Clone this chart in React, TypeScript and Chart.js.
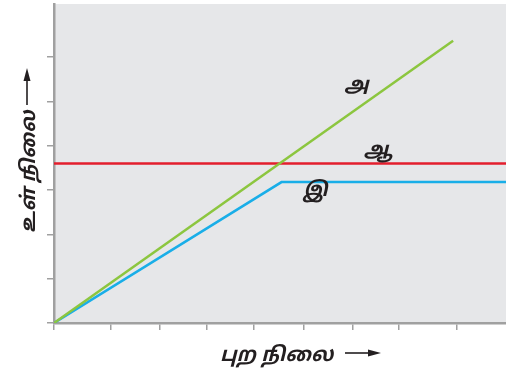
import React, { useEffect, useRef } from "react";
import { Chart, registerables } from "chart.js";

Chart.register(...registerables);

const xTickValues = [0, 1.14, 2.12, 3.06, 4.01, 5.0, 5.99, 6.92, 8.07];
const yTickValues = [0, 1, 2, 3, 4, 5, 6];

const greenX = [0, 8.0];
const greenY = [0, 6.37];
const redX = [0, 9.06];
const redY = [3.6, 3.6];
const blueX = [0, 4.56, 9.06];
const blueY = [0, 3.18, 3.18];

const labelA = "அ";
const labelAA = "ஆ";
const labelI = "இ";
const xTitle = "புற நிலை";
const yTitle = "உள் நிலை";

const FONT = '"Noto Sans Tamil", "Lohit Tamil", "Noto Sans", "DejaVu Sans", sans-serif';

const toPts = (xs: number[], ys: number[]) => xs.map((x, i) => ({ x, y: ys[i] }));

const bgPlugin = {
  id: "bg",
  beforeDraw(chart: any) {
    const { ctx, chartArea } = chart;
    ctx.save();
    ctx.fillStyle = "#e6e7e9";
    ctx.fillRect(chartArea.left, chartArea.top, chartArea.right - chartArea.left, chartArea.bottom - chartArea.top);
    ctx.restore();
  },
};

function drawArrow(ctx: CanvasRenderingContext2D, x0: number, y: number, len: number) {
  ctx.beginPath();
  ctx.lineWidth = 1.6;
  ctx.moveTo(x0, y);
  ctx.lineTo(x0 + len - 10, y);
  ctx.stroke();
  ctx.beginPath();
  ctx.moveTo(x0 + len, y);
  ctx.lineTo(x0 + len - 13, y - 3.5);
  ctx.lineTo(x0 + len - 13, y + 3.5);
  ctx.closePath();
  ctx.fill();
}

const textPlugin = {
  id: "texts",
  afterDraw(chart: any) {
    const { ctx, scales } = chart;
    const xs = scales.x;
    const ys = scales.y;
    ctx.save();
    ctx.fillStyle = "#231f20";
    ctx.strokeStyle = "#231f20";
    ctx.font = `bold italic 20px ${FONT}`;
    ctx.textAlign = "center";
    ctx.textBaseline = "middle";
    ctx.fillText(labelA, xs.getPixelForValue(6.06), ys.getPixelForValue(5.33));
    ctx.fillText(labelAA, xs.getPixelForValue(6.5), ys.getPixelForValue(3.86));
    ctx.fillText(labelI, xs.getPixelForValue(5.24), ys.getPixelForValue(2.95));

    // x title
    ctx.font = `bold italic 20px ${FONT}`;
    ctx.textAlign = "left";
    ctx.textBaseline = "alphabetic";
    ctx.fillText(xTitle, 220, 361);
    drawArrow(ctx, 345, 353, 36);

    // y title
    ctx.translate(35, 233);
    ctx.rotate(-Math.PI / 2);
    ctx.fillText(yTitle, 0, 0);
    drawArrow(ctx, 128, -8, 37);
    ctx.restore();
  },
};

export default function App() {
  const ref = useRef<HTMLCanvasElement | null>(null);
  useEffect(() => {
    document.body.style.margin = "0";
    const chart = new Chart(ref.current as HTMLCanvasElement, {
      type: "scatter",
      data: {
        datasets: [
          { data: toPts(greenX, greenY), borderColor: "#8cc63f", showLine: true, borderWidth: 2.5, pointRadius: 0 },
          { data: toPts(redX, redY), borderColor: "#e31e2d", showLine: true, borderWidth: 2.5, pointRadius: 0 },
          { data: toPts(blueX, blueY), borderColor: "#19aee8", showLine: true, borderWidth: 2.5, pointRadius: 0 },
        ],
      },
      options: {
        animation: false,
        responsive: false,
        maintainAspectRatio: false,
        layout: { padding: { left: 47, top: 4, right: 0, bottom: 40 } },
        plugins: { legend: { display: false }, tooltip: { enabled: false } },
        scales: {
          x: {
            type: "linear",
            min: 0,
            max: 9.06,
            afterBuildTicks: (s: any) => {
              s.ticks = xTickValues.map((v) => ({ value: v }));
            },
            ticks: { display: false },
            grid: { drawOnChartArea: false, drawTicks: true, tickLength: 7, color: "#a0a0a0", lineWidth: 1.5 },
            border: { display: true, color: "#a0a0a0", width: 2.5 },
          },
          y: {
            type: "linear",
            min: 0,
            max: 7.2,
            afterBuildTicks: (s: any) => {
              s.ticks = yTickValues.map((v) => ({ value: v }));
            },
            ticks: { display: false },
            grid: { drawOnChartArea: false, drawTicks: true, tickLength: 7, color: "#a0a0a0", lineWidth: 1.5 },
            border: { display: true, color: "#a0a0a0", width: 2.5 },
          },
        },
      },
      plugins: [bgPlugin, textPlugin],
    });
    return () => chart.destroy();
  }, []);
  return (
    <div style={{ width: 506, height: 370 }}>
      <canvas ref={ref} width={506} height={370} style={{ display: "block" }} />
    </div>
  );
}
